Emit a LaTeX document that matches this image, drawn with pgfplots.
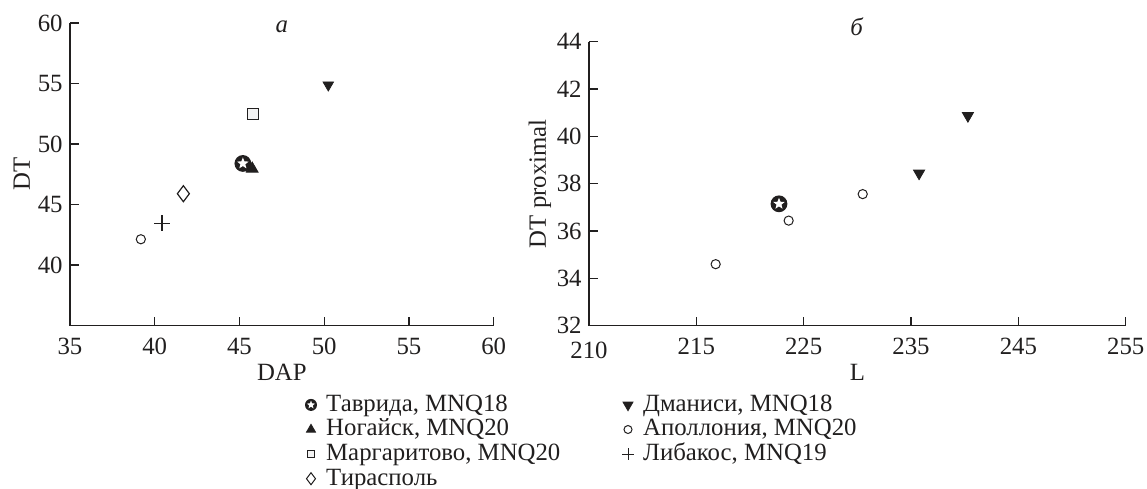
\documentclass[border=0pt]{standalone}
\usepackage{fontspec}
\setmainfont{Liberation Serif}
\usepackage{pgfplots}
\pgfplotsset{compat=1.18}
\definecolor{ink}{rgb}{0.13,0.12,0.12}
\pgfdeclareplotmark{cstar}{%
  \pgfsetfillcolor{ink}%
  \pgfpathcircle{\pgfpointorigin}{\pgfplotmarksize}%
  \pgfusepathqfill
  \pgfsetfillcolor{white}%
  \pgfpathmoveto{\pgfpointpolar{90}{0.72\pgfplotmarksize}}%
  \pgfpathlineto{\pgfpointpolar{126}{0.31\pgfplotmarksize}}%
  \pgfpathlineto{\pgfpointpolar{162}{0.72\pgfplotmarksize}}%
  \pgfpathlineto{\pgfpointpolar{198}{0.31\pgfplotmarksize}}%
  \pgfpathlineto{\pgfpointpolar{234}{0.72\pgfplotmarksize}}%
  \pgfpathlineto{\pgfpointpolar{270}{0.31\pgfplotmarksize}}%
  \pgfpathlineto{\pgfpointpolar{306}{0.72\pgfplotmarksize}}%
  \pgfpathlineto{\pgfpointpolar{342}{0.31\pgfplotmarksize}}%
  \pgfpathlineto{\pgfpointpolar{18}{0.72\pgfplotmarksize}}%
  \pgfpathlineto{\pgfpointpolar{54}{0.31\pgfplotmarksize}}%
  \pgfpathclose
  \pgfusepathqfill
}
\newcommand{\fs}{\fontsize{12.4}{13.5}\selectfont}
\pgfplotsset{
  common/.style={
    scale only axis,
    axis lines=left,
    axis line style={-, line width=0.7pt, draw=ink},
    every outer x axis line/.append style={-},
    every outer y axis line/.append style={-},
    tick align=inside,
    major tick length=4.5pt,
    every tick/.style={line width=0.7pt, draw=ink},
    tick label style={font=\fs, text=ink},
    /pgf/number format/assume math mode=true,
    xticklabel style={anchor=center, yshift=-10.15pt},
    yticklabel style={anchor=east, xshift=-3.5pt, inner sep=0pt},
    label style={font=\fs, text=ink},
    xlabel style={at={(axis description cs:0.5,0)}, anchor=center, yshift=-23.15pt},
    clip=false,
    legend image code/.code={\draw[##1] plot coordinates {(0pt,0pt)};},
    legend style={draw=none, fill=none, inner sep=0pt, row sep=0pt,
      cells={anchor=west},
      nodes={inner xsep=0pt, inner ysep=0.5pt, text height=8.8pt, text depth=2.5pt,
             font=\fs, text=ink},
      /tikz/every odd column/.style={column sep=4.6pt}},
  },
}
\begin{document}
\begin{tikzpicture}
\path[use as bounding box] (-35pt,-81.15pt) rectangle (538.5pt,162.85pt);
% ---------------- panel a ----------------
\begin{axis}[common,
  at={(0pt,0pt)}, anchor=south west,
  width=211.85pt, height=151.35pt,
  xmin=35, xmax=60, ymin=35, ymax=60,
  xtick={35,40,45,50,55,60},
  ytick={40,45,50,55,60},
  xlabel={DAP}, ylabel={DT},
  ylabel style={at={(axis description cs:-0.114,0.5)}, anchor=center},
  legend style={at={(rel axis cs:0,0)}, anchor=north west, xshift=117.3pt, yshift=-33.25pt},
]
\addlegendimage{mark=cstar, mark size=3pt, draw=ink}
\addlegendentry{Таврида, MNQ18}
\addlegendimage{mark=triangle*, mark size=2.6pt, draw=ink, fill=ink}
\addlegendentry{Ногайск, MNQ20}
\addlegendimage{mark=square*, mark size=1.75pt, draw=ink, fill=black!5, line width=0.5pt}
\addlegendentry{Маргаритово, MNQ20}
\addlegendimage{mark=diamond, mark size=3pt, draw=ink, line width=0.5pt}
\addlegendentry{Тирасполь}

\addplot[forget plot, only marks, mark=*, mark size=2.3pt, draw=ink, fill=white, line width=0.5pt]
  coordinates {(39.18,42.14)};
\addplot[forget plot, only marks, mark=+, mark size=4pt, draw=ink, line width=0.6pt]
  coordinates {(40.43,43.46)};
\addplot[forget plot, only marks, mark=diamond, mark size=4pt, draw=ink, fill=white, line width=0.6pt]
  coordinates {(41.69,45.9)};
\addplot[forget plot, only marks, mark=triangle*, mark size=3.4pt, draw=ink, fill=ink]
  coordinates {(45.75,47.96)};
\addplot[forget plot, only marks, mark=cstar, mark size=4.2pt, draw=ink]
  coordinates {(45.2,48.4)};
\addplot[forget plot, only marks, mark=square*, mark size=2.7pt, draw=ink, fill=black!5, line width=0.6pt]
  coordinates {(45.8,52.5)};
\addplot[forget plot, only marks, mark=triangle*, mark size=3pt, draw=ink, fill=ink, mark options={rotate=180}]
  coordinates {(50.24,54.88)};
\end{axis}
\node[font=\fs\itshape, text=ink] at (105.85pt,149.5pt) {a};
% ---------------- panel b ----------------
\begin{axis}[common,
  at={(259.5pt,0pt)}, anchor=south west,
  width=268.35pt, height=142pt,
  xmin=205, xmax=255, ymin=32, ymax=44,
  xtick={215,225,235,245,255},
  extra x ticks={205},
  extra x tick labels={210},
  extra x tick style={xticklabel style={yshift=-2pt}},
  ytick={32,34,36,38,40,42,44},
  xlabel={L}, ylabel={DT proximal},
  ylabel style={at={(axis description cs:-0.0913,0.5)}, anchor=center},
  legend style={at={(rel axis cs:0,0)}, anchor=north west, xshift=16.3pt, yshift=-33.25pt},
]
\addlegendimage{mark=triangle*, mark size=2.9pt, draw=ink, fill=ink, mark options={rotate=180}}
\addlegendentry{Дманиси, MNQ18}
\addlegendimage{mark=*, mark size=2pt, draw=ink, fill=white, line width=0.5pt}
\addlegendentry{Аполлония, MNQ20}
\addlegendimage{mark=+, mark size=3pt, draw=ink, line width=0.5pt}
\addlegendentry{Либакос, MNQ19}

\addplot[forget plot, only marks, mark=*, mark size=2.3pt, draw=ink, fill=white, line width=0.5pt]
  coordinates {(216.8,34.6) (223.6,36.44) (230.5,37.56)};
\addplot[forget plot, only marks, mark=cstar, mark size=4.2pt, draw=ink]
  coordinates {(222.7,37.15)};
\addplot[forget plot, only marks, mark=triangle*, mark size=3.2pt, draw=ink, fill=ink, mark options={rotate=180}]
  coordinates {(235.75,38.44) (240.3,40.87)};
\end{axis}
\node[font=\fs\itshape, text=ink] at (393.35pt,149.5pt) {б};
\end{tikzpicture}
\end{document}
